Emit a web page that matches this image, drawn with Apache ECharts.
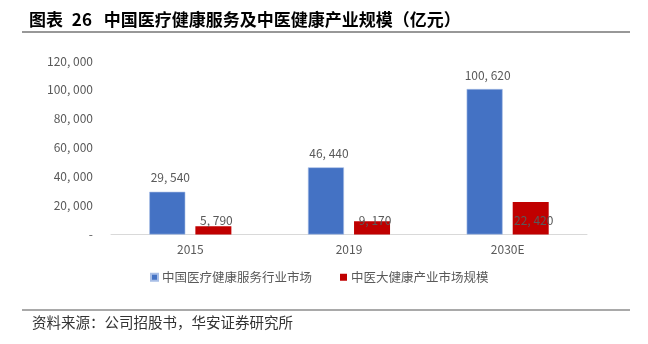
<!DOCTYPE html>
<html>
<head>
<meta charset="utf-8">
<script src="https://cdn.jsdelivr.net/npm/echarts@6/dist/echarts.min.js"></script>
<style>
  html, body { margin: 0; padding: 0; background: #fff; }
  #chart { width: 648px; height: 344px; }
</style>
</head>
<body>
<div id="chart"></div>
<script>
// 中国医疗健康服务及中医健康产业规模（亿元）
const categories = ['2015', '2019', '2030E'];
const medicalServices = [29540, 46440, 100620];
const tcmHealth = [5790, 9170, 22420];
const seriesNames = ['中国医疗健康服务行业市场', '中医大健康产业市场规模'];
const yTicks = [0, 20000, 40000, 60000, 80000, 100000, 120000];

const fmt = v => v === 0 ? '-' : String(v).replace(/\B(?=(\d{3})+(?!\d))/g, ', ');

const chart = echarts.init(document.getElementById('chart'));
const cjk = '"Noto Sans CJK SC", "Noto Sans", sans-serif';

chart.setOption({
  backgroundColor: '#fff',
  animation: false,
  textStyle: { fontFamily: cjk },
  title: {
    text: '{n|图表 }{d|26 }{t|中国医疗健康服务及中医健康产业规模（亿元）}',
    left: 24,
    top: 6,
    textStyle: {
      fontSize: 17, fontWeight: 'bold', color: '#000', fontFamily: cjk,
      rich: {
        n: { fontSize: 17, fontWeight: 'bold', color: '#000', padding: [0, 5, 0, 0] },
        d: { fontSize: 17, fontWeight: 'bold', color: '#000', padding: [0, 8, 0, 0] },
        t: { fontSize: 17, fontWeight: 'bold', color: '#000' }
      }
    }
  },
  graphic: [
    { type: 'line', shape: { x1: 22, y1: 32, x2: 630, y2: 32 }, style: { stroke: '#333', lineWidth: 1.2 } },
    { type: 'line', shape: { x1: 22, y1: 310, x2: 630, y2: 310 }, style: { stroke: '#555', lineWidth: 1.2 } },
    {
      type: 'text', left: 32, top: 315,
      style: { text: '资料来源：公司招股书，华安证券研究所', fill: '#333', font: '14.5px ' + cjk }
    }
  ],
  legend: {
    data: seriesNames,
    left: 145,
    top: 266,
    icon: 'rect',
    itemWidth: 7,
    itemHeight: 7,
    itemGap: 28,
    textStyle: { fontSize: 12.5, color: '#595959', padding: [0, 0, 0, -1] }
  },
  grid: { left: 111, right: 61, top: 61, bottom: 109.5, containLabel: false },
  xAxis: {
    type: 'category',
    data: categories,
    axisLine: { lineStyle: { color: '#D9D9D9', width: 1 } },
    axisTick: { show: false },
    axisLabel: { color: '#595959', fontSize: 12, margin: 9 }
  },
  yAxis: {
    type: 'value',
    min: yTicks[0],
    max: yTicks[yTicks.length - 1],
    interval: 20000,
    splitLine: { show: false },
    axisLine: { show: false },
    axisTick: { show: false },
    axisLabel: { color: '#595959', fontSize: 12, margin: 18, formatter: fmt }
  },
  series: [
    {
      name: seriesNames[0],
      type: 'bar',
      data: medicalServices,
      barWidth: 36,
      barGap: '28%',
      itemStyle: { color: '#4472C4', borderColor: '#A8BEE6', borderWidth: 0.6 },
      label: {
        show: true, position: 'top', distance: 8, offset: [3, 0],
        color: '#595959', fontSize: 12,
        formatter: p => fmt(p.value)
      }
    },
    {
      name: seriesNames[1],
      type: 'bar',
      data: tcmHealth,
      barWidth: 36,
      itemStyle: { color: '#C00000' },
      label: {
        show: true, position: 'insideBottom', distance: 8.5, offset: [3, 0],
        color: '#595959', fontSize: 12,
        formatter: p => fmt(p.value)
      }
    }
  ]
});
</script>
</body>
</html>
